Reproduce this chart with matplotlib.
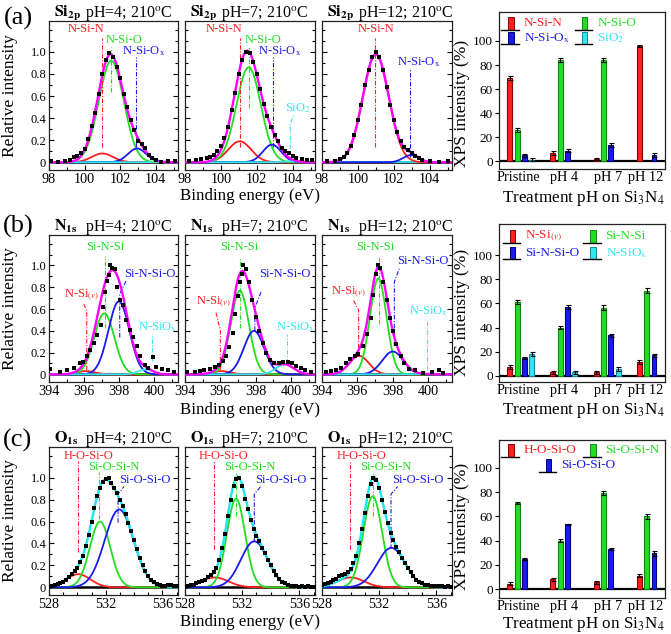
import numpy as np
import matplotlib
matplotlib.use("Agg")
import matplotlib.pyplot as plt
from matplotlib.patches import Rectangle
from matplotlib.lines import Line2D
from matplotlib.ticker import MultipleLocator, FixedLocator

plt.rcParams['font.family'] = ['Liberation Serif', 'DejaVu Serif']
plt.rcParams['mathtext.fontset'] = 'stix'

RED = '#ff1f1f'; GREEN = '#22dd22'; BLUE = '#1a1aee'; CYAN = '#33e6f2'
MAG = '#ff00ff'; ENV_O = '#19e6f0'
COMP_COLORS = [RED, GREEN, BLUE, CYAN]

# ---------------- spectra: fitted peak parameters (center, height, FWHM) ----------
si_ph4_c = [101.0, 101.5, 102.95, 104.0]; si_ph4_h = [0.08, 0.92, 0.125, 0.004]; si_ph4_w = [1.4, 1.65, 1.2, 1.0]
si_ph7_c = [101.05, 101.55, 102.85, 103.9]; si_ph7_h = [0.19, 0.86, 0.16, 0.01]; si_ph7_w = [1.5, 1.6, 1.2, 1.0]
si_ph12_c = [101.0, 102.95]; si_ph12_h = [0.98, 0.065]; si_ph12_w = [1.7, 1.0]

n_ph4_c = [396.1, 397.15, 397.98, 399.5]; n_ph4_h = [0.03, 0.56, 0.67, 0.045]; n_ph4_w = [1.2, 1.35, 1.4, 1.0]
n_ph7_c = [396.05, 397.1, 397.9, 399.65]; n_ph7_h = [0.03, 0.77, 0.40, 0.09]; n_ph7_w = [1.2, 1.2, 1.35, 1.2]
n_ph12_c = [396.1, 397.18, 398.0, 399.8]; n_ph12_h = [0.17, 0.88, 0.21, 0.004]; n_ph12_w = [1.3, 1.1, 1.4, 1.0]

o_ph4_c = [530.07, 531.6, 532.95]; o_ph4_h = [0.12, 0.60, 0.71]; o_ph4_w = [2.0, 1.7, 2.4]
o_ph7_c = [530.1, 531.57, 532.85]; o_ph7_h = [0.09, 0.81, 0.42]; o_ph7_w = [2.2, 1.5, 2.2]
o_ph12_c = [530.0, 531.55, 532.85]; o_ph12_h = [0.09, 0.83, 0.36]; o_ph12_w = [2.2, 1.55, 2.3]

# ---------------- spectra: measured points ----------------
si_ph4_x = [98.1, 98.5, 98.9, 99.2, 99.4, 99.6, 99.8, 100.0, 100.2, 100.4, 100.6, 100.8, 101.0, 101.2, 101.4, 101.6,
            101.8, 102.0, 102.2, 102.4, 102.6, 102.8, 103.0, 103.2, 103.4, 103.6, 103.8, 104.0, 104.3, 104.7, 105.1]
si_ph4_y = [0.01, 0.0, 0.01, 0.02, 0.05, 0.06, 0.08, 0.12, 0.21, 0.33, 0.45, 0.62, 0.80, 0.93, 0.99, 0.95,
            0.86, 0.76, 0.62, 0.50, 0.38, 0.29, 0.19, 0.17, 0.13, 0.07, 0.04, 0.02, 0.0, 0.01, 0.01]
si_ph7_x = [98.2, 98.6, 98.9, 99.2, 99.4, 99.6, 99.8, 100.0, 100.2, 100.4, 100.6, 100.8, 101.0, 101.2, 101.4, 101.6,
            101.8, 102.0, 102.2, 102.4, 102.6, 102.8, 103.0, 103.2, 103.4, 103.6, 103.8, 104.0, 104.2, 104.5, 104.8, 105.1]
si_ph7_y = [0.01, 0.02, 0.03, 0.04, 0.05, 0.07, 0.10, 0.15, 0.22, 0.32, 0.47, 0.63, 0.80, 0.93, 1.0, 0.99,
            0.91, 0.80, 0.66, 0.53, 0.42, 0.32, 0.25, 0.19, 0.13, 0.10, 0.08, 0.06, 0.04, 0.03, 0.02, 0.02]
si_ph12_x = [98.3, 98.7, 99.0, 99.2, 99.4, 99.6, 99.8, 100.0, 100.2, 100.4, 100.6, 100.8, 101.0, 101.2, 101.4,
             101.6, 101.8, 102.0, 102.2, 102.4, 102.6, 102.8, 103.0, 103.2, 103.4, 103.6, 104.0, 104.5, 105.0]
si_ph12_y = [0.01, 0.01, 0.03, 0.05, 0.08, 0.15, 0.25, 0.38, 0.52, 0.70, 0.84, 0.95, 1.0, 0.95, 0.84,
             0.68, 0.52, 0.38, 0.27, 0.19, 0.14, 0.11, 0.08, 0.06, 0.04, 0.02, 0.01, 0.0, 0.01]

n_ph4_x = [394.05, 394.6, 395.0, 395.4, 395.75, 395.95, 396.15, 396.35, 396.55, 396.75, 396.95, 397.1, 397.2, 397.3,
           397.4, 397.5, 397.6, 397.75, 397.9, 398.05, 398.2, 398.4, 398.6, 398.8, 399.0, 399.2, 399.45, 399.65,
           399.9, 400.1, 400.45, 400.8, 401.1]
n_ph4_y = [0.05, 0.02, 0.04, 0.06, 0.10, 0.11, 0.17, 0.22, 0.29, 0.36, 0.45, 0.62, 0.76, 0.86,
           0.91, 1.0, 0.98, 0.97, 0.80, 0.68, 0.64, 0.50, 0.41, 0.34, 0.26, 0.17, 0.09, 0.06,
           0.16, 0.07, 0.05, 0.04, 0.02]
n_ph7_x = [394.1, 394.55, 394.85, 395.1, 395.4, 395.7, 395.95, 396.15, 396.3, 396.5, 396.7, 396.85, 397.0, 397.1,
           397.2, 397.3, 397.45, 397.6, 397.8, 398.0, 398.2, 398.4, 398.6, 398.8, 399.05, 399.3, 399.55, 399.8,
           400.05, 400.3, 400.55, 400.8, 401.1]
n_ph7_y = [0.02, 0.02, 0.03, 0.04, 0.05, 0.07, 0.09, 0.12, 0.17, 0.25, 0.38, 0.55, 0.72, 0.85,
           0.92, 1.0, 0.97, 0.85, 0.68, 0.53, 0.40, 0.29, 0.20, 0.13, 0.10, 0.10, 0.11, 0.11,
           0.10, 0.08, 0.06, 0.04, 0.02]
n_ph12_x = [394.2, 394.5, 394.8, 395.1, 395.35, 395.6, 395.85, 396.05, 396.3, 396.55, 396.75, 396.9, 397.05, 397.15,
            397.3, 397.45, 397.65, 397.85, 398.0, 398.2, 398.45, 398.65, 398.9, 399.25, 399.7, 400.2, 400.6, 400.85]
n_ph12_y = [0.02, 0.03, 0.04, 0.06, 0.10, 0.14, 0.17, 0.19, 0.26, 0.37, 0.52, 0.73, 0.92, 1.0,
            0.98, 0.85, 0.68, 0.52, 0.40, 0.28, 0.17, 0.10, 0.05, 0.04, 0.01, 0.02, 0.04, 0.01]

o_x = [528.0, 528.2, 528.4, 528.6, 528.8, 529.0, 529.2, 529.4, 529.6, 529.8, 530.0, 530.2, 530.4, 530.6, 530.8,
       531.0, 531.2, 531.4, 531.6, 531.8, 532.0, 532.2, 532.4, 532.6, 532.8, 533.0, 533.2, 533.4, 533.6, 533.8,
       534.0, 534.2, 534.4, 534.6, 534.8, 535.0, 535.2, 535.4, 535.6, 535.8, 536.0, 536.2, 536.4, 536.6, 536.8, 537.0]
o_ph4_y = [0.005, 0.01, 0.02, 0.03, 0.04, 0.05, 0.07, 0.09, 0.12, 0.15, 0.18, 0.23, 0.29, 0.38, 0.48,
           0.60, 0.72, 0.83, 0.91, 0.96, 0.99, 1.0, 0.95, 0.91, 0.86, 0.80, 0.74, 0.67, 0.59, 0.51,
           0.43, 0.35, 0.27, 0.20, 0.15, 0.10, 0.07, 0.05, 0.03, 0.02, 0.01, 0.01, 0.02, 0.02, 0.01, 0.01]
o_ph7_y = [0.005, 0.01, 0.02, 0.025, 0.035, 0.045, 0.06, 0.07, 0.09, 0.11, 0.14, 0.18, 0.25, 0.36, 0.49,
           0.65, 0.80, 0.92, 0.99, 1.0, 0.92, 0.81, 0.71, 0.61, 0.53, 0.47, 0.42, 0.36, 0.31, 0.25,
           0.20, 0.15, 0.11, 0.08, 0.05, 0.035, 0.02, 0.015, 0.01, 0.01, 0.005, 0.01, 0.0, 0.01, 0.005, 0.0]
o_ph12_y = [0.02, 0.03, 0.04, 0.05, 0.07, 0.08, 0.10, 0.11, 0.12, 0.14, 0.17, 0.22, 0.29, 0.40, 0.53,
            0.68, 0.83, 0.94, 1.0, 0.98, 0.91, 0.80, 0.69, 0.59, 0.50, 0.43, 0.37, 0.32, 0.27, 0.22,
            0.18, 0.14, 0.10, 0.07, 0.05, 0.035, 0.025, 0.02, 0.015, 0.01, 0.01, 0.01, 0.01, 0.005, 0.01, 0.005]

# ---------------- bar charts ----------------
bar_cats = ['Pristine', 'pH 4', 'pH 7', 'pH 12']
nan = np.nan
a_nsin = [69, 7, 2, 96];        a_nsin_e = [1.5, 1.5, 1.0, 1.0]
a_nsio = [26, 84, 84, nan];     a_nsio_e = [1.5, 1.5, 1.5, 0]
a_nsiox = [5, 9, 13.5, 5.5];    a_nsiox_e = [1.5, 1.0, 1.5, 1.5]
a_sio2 = [1.5, nan, nan, nan];  a_sio2_e = [1.0, 0, 0, 0]

b_nsiv = [7.5, 3, 3, 11.5];     b_nsiv_e = [1.5, 1.0, 1.0, 1.5]
b_sinsi = [61, 40, 56.5, 70.5]; b_sinsi_e = [1.5, 1.5, 2.0, 2.0]
b_sinsio = [15, 57, 33.5, 17];  b_sinsio_e = [1.0, 1.5, 1.0, 1.5]
b_nsiox = [18, 3, 5.5, nan];    b_nsiox_e = [1.5, 1.0, 1.5, 0]

c_hosio = [4.5, 8, 5.5, 11];    c_hosio_e = [1.5, 1.5, 1.5, 1.0]
c_siosin = [71, 40, 79, 60];    c_siosin_e = [1.0, 1.0, 1.5, 2.0]
c_siosio = [24.5, 53.5, 33, 29.5]; c_siosio_e = [0.8, 0.5, 0.8, 2.0]

W, H = 671, 634
fig = plt.figure(figsize=(W / 100, H / 100), dpi=100)


def fa(x0, x1, ytop, ybot):
    return [x0 / W, 1 - ybot / H, (x1 - x0) / W, (ybot - ytop) / H]


def gauss(x, c, h, w):
    return h * np.exp(-4 * np.log(2) * (x - c) ** 2 / w ** 2)


def spectrum(ax, xlim, major, cs, hs, ws, colors, env_color, px, py, notes, title_el, title_ph, first):
    xx = np.linspace(xlim[0], xlim[1], 700)
    ax.plot(xlim, [0, 0], color='k', lw=1.8, zorder=1)
    env = np.zeros_like(xx)
    for c, h, w, col in zip(cs, hs, ws, colors):
        g = gauss(xx, c, h, w)
        env += g
        ax.plot(xx, g, color=col, lw=1.3, zorder=2)
    ax.plot(xx, env, color=env_color, lw=1.7, zorder=3)
    for text, col, tx, ty, pts in notes:
        lx, ly = zip(*pts)
        ax.plot(lx, ly, color=col, lw=0.8, ls=(0, (4, 1.5, 1, 1.5)), zorder=2.5)
        ax.text(tx, ty, text, color=col, fontsize=9, ha='center', va='center', zorder=5)
    ax.plot(px, py, 's', color='k', ms=2.6, mew=0, zorder=4)
    ax.set_xlim(xlim)
    ax.set_ylim(-0.07, 1.28)
    ax.xaxis.set_major_locator(MultipleLocator(major))
    ax.xaxis.set_minor_locator(MultipleLocator(1))
    ax.yaxis.set_major_locator(FixedLocator([0, 0.2, 0.4, 0.6, 0.8, 1.0]))
    ax.yaxis.set_minor_locator(MultipleLocator(0.1))
    ax.set_yticklabels(['0', '0.2', '0.4', '0.6', '0.8', '1.0'])
    ax.tick_params(which='both', direction='in', left=True, right=True, top=False, bottom=True, width=0.8)
    ax.tick_params(which='major', length=3.5)
    ax.tick_params(which='minor', length=2)
    ax.tick_params(axis='x', labelsize=10.2, pad=2)
    ax.tick_params(axis='y', labelsize=9, labelleft=first, pad=2)
    for s in ax.spines.values():
        s.set_linewidth(0.9)
        s.set_color('#222222')
    ax.text(0.04, 1.03, title_el, transform=ax.transAxes, fontsize=11.5, ha='left', va='baseline')
    ax.text(0.28, 1.03, title_ph, transform=ax.transAxes, fontsize=11.5, ha='left', va='baseline')


def bars(ax, series, errs, colors, edges, legend, ylim):
    off = [-1.5, -0.5, 0.5, 1.5]
    gx = np.arange(len(bar_cats))
    ax.axhline(0, color='k', lw=1.6, zorder=1)
    for i, (vals, ev, col, ec) in enumerate(zip(series, errs, colors, edges)):
        vals = np.array(vals, dtype=float)
        ev = np.array(ev, dtype=float)
        m = ~np.isnan(vals)
        xs = gx[m] + off[i] * 0.17
        ax.bar(xs, vals[m], width=0.115, color=col, edgecolor=ec, lw=0.8, zorder=2)
        ax.errorbar(xs, vals[m], yerr=ev[m], fmt='none', ecolor='k', elinewidth=0.8, capsize=1.8, capthick=0.8, zorder=3)
    ax.set_xlim(-0.503, 3.34)
    ax.set_ylim(*ylim)
    ax.set_yticks([0, 20, 40, 60, 80, 100])
    ax.set_xticks([-0.05, 1.0, 2.02, 2.88])
    ax.set_xticklabels(bar_cats)
    ax.tick_params(axis='y', direction='out', length=3, width=0.8, labelsize=9.5, pad=1.5)
    ax.tick_params(axis='x', length=0, labelsize=10.3, pad=1.5)
    for s in ax.spines.values():
        s.set_linewidth(0.9)
        s.set_color('#222222')
    for (x0, y0, col, ec, text) in legend:
        ax.add_line(Line2D([x0, x0 + 0.105], [y0, y0], transform=ax.transAxes, color='k', lw=1.0))
        ax.add_patch(Rectangle((x0 + 0.04, y0), 0.035, 0.08, transform=ax.transAxes, fc=col, ec=ec, lw=0.7))
        ax.text(x0 + 0.135, y0 + 0.042, text, transform=ax.transAxes, color=col, fontsize=9.5, ha='left', va='center')


EDGES = ['#8a0000', '#118811', '#000080', '#118899']
cols_x = [(49, 178), (185, 315), (322, 452)]
rows_y = [(21, 170), (235, 382), (447, 595)]
BX = (499, 665)
bar_rows = [(12, 169), (224, 382), (440, 598)]

SI_T = r'$\mathbf{Si_{2p}}$'
N_T = r'$\mathbf{N_{1s}}$'
O_T = r'$\mathbf{O_{1s}}$'
Ox = r'$_{\rm x}$'
Nsiv = r'N-Si$_{(v)}$'

# ---------------- row (a): Si2p ----------------
si_notes = [
    [("N-Si-N", RED, 100.1, 1.21, [(101.0, 0.14), (101.0, 1.13)]),
     ("N-Si-O", GREEN, 102.2, 1.11, [(101.5, 0.64), (101.5, 1.04)]),
     ("N-Si-O" + Ox, BLUE, 103.3, 1.01, [(102.9, 0.14), (102.9, 0.95)])],
    [("N-Si-N", RED, 100.2, 1.21, [(101.07, 0.14), (101.07, 1.13)]),
     ("N-Si-O", GREEN, 102.35, 1.11, [(101.55, 0.49), (101.55, 1.04)]),
     ("N-Si-O" + Ox, BLUE, 103.3, 1.01, [(102.93, 0.14), (102.93, 0.95)]),
     ("SiO$_2$", CYAN, 104.3, 0.49, [(103.87, 0.12), (103.87, 0.35), (104.05, 0.42)])],
    [("N-Si-N", RED, 101.0, 1.21, [(100.97, 0.14), (100.97, 1.13)]),
     ("N-Si-O" + Ox, BLUE, 103.37, 0.91, [(102.9, 0.05), (102.9, 0.85)])],
]
si_sets = [(si_ph4_c, si_ph4_h, si_ph4_w, COMP_COLORS, si_ph4_x, si_ph4_y, 'pH=4; 210$^{\\rm o}$C'),
           (si_ph7_c, si_ph7_h, si_ph7_w, COMP_COLORS, si_ph7_x, si_ph7_y, 'pH=7; 210$^{\\rm o}$C'),
           (si_ph12_c, si_ph12_h, si_ph12_w, [RED, BLUE], si_ph12_x, si_ph12_y, 'pH=12; 210$^{\\rm o}$C')]
for i, (c, h, w, cc, px, py, tt) in enumerate(si_sets):
    ax = fig.add_axes(fa(cols_x[i][0], cols_x[i][1], *rows_y[0]))
    if i == 2:
        ax.plot([98, 105.25], [0.002, 0.002], color=CYAN, lw=1.3, zorder=1.5)
    spectrum(ax, (98, 105.25), 2, c, h, w, cc, MAG, px, py, si_notes[i], SI_T, tt, i == 0)

# ---------------- row (b): N1s ----------------
n_notes = [
    [(Nsiv, RED, 395.86, 0.73, [(396.15, 0.04), (396.15, 0.58), (395.95, 0.66)]),
     ("Si-N-Si", GREEN, 397.2, 1.17, [(397.2, 0.43), (397.2, 1.09)]),
     ("Si-N-Si-O", BLUE, 399.75, 0.92, [(398.03, 0.34), (398.03, 0.74), (398.4, 0.86)]),
     ("N-SiO" + Ox, CYAN, 400.2, 0.43, [(399.88, 0.12), (399.88, 0.37)])],
    [(Nsiv, RED, 395.6, 0.67, [(396.0, 0.04), (396.0, 0.40), (395.75, 0.57)]),
     ("Si-N-Si", GREEN, 397.05, 1.17, [(397.1, 0.43), (397.1, 1.08)]),
     ("Si-N-Si-O", BLUE, 399.62, 0.92, [(397.95, 0.40), (397.95, 0.61), (398.33, 0.77)]),
     ("N-SiO" + Ox, CYAN, 400.23, 0.43, [(399.78, 0.10), (399.78, 0.37)])],
    [(Nsiv, RED, 395.5, 0.76, [(396.07, 0.16), (396.07, 0.59), (395.75, 0.69)]),
     ("Si-N-Si", GREEN, 397.0, 1.17, [(397.24, 0.46), (397.24, 1.08)]),
     ("Si-N-Si-O", BLUE, 399.69, 1.04, [(398.09, 0.26), (398.09, 0.85), (398.37, 0.97)]),
     ("N-SiO" + Ox, CYAN, 400.0, 0.58, [(399.91, 0.04), (399.91, 0.50)])],
]
n_sets = [(n_ph4_c, n_ph4_h, n_ph4_w, n_ph4_x, n_ph4_y, 'pH=4; 210$^{\\rm o}$C'),
          (n_ph7_c, n_ph7_h, n_ph7_w, n_ph7_x, n_ph7_y, 'pH=7; 210$^{\\rm o}$C'),
          (n_ph12_c, n_ph12_h, n_ph12_w, n_ph12_x, n_ph12_y, 'pH=12; 210$^{\\rm o}$C')]
for i, (c, h, w, px, py, tt) in enumerate(n_sets):
    ax = fig.add_axes(fa(cols_x[i][0], cols_x[i][1], *rows_y[1]))
    spectrum(ax, (394, 401.35), 2, c, h, w, COMP_COLORS, MAG, px, py, n_notes[i], N_T, tt, i == 0)

# ---------------- row (c): O1s ----------------
o_notes = [
    [("H-O-Si-O", RED, 530.77, 1.2, [(530.07, 0.32), (530.07, 1.15)]),
     ("Si-O-Si-N", GREEN, 532.57, 1.1, [(531.54, 0.62), (531.54, 1.05)]),
     ("Si-O-Si-O", BLUE, 534.74, 0.98, [(532.87, 0.59), (532.87, 0.85), (533.29, 0.92)])],
    [("H-O-Si-O", RED, 530.73, 1.2, [(530.03, 0.35), (530.03, 1.15)]),
     ("Si-O-Si-N", GREEN, 532.55, 1.1, [(531.57, 0.65), (531.57, 1.05)]),
     ("Si-O-Si-O", BLUE, 534.72, 0.98, [(532.85, 0.41), (532.85, 0.85), (533.3, 0.92)])],
    [("H-O-Si-O", RED, 530.74, 1.2, [(529.93, 0.35), (529.93, 1.15)]),
     ("Si-O-Si-N", GREEN, 532.5, 1.1, [(531.59, 0.65), (531.59, 1.05)]),
     ("Si-O-Si-O", BLUE, 534.7, 0.98, [(532.83, 0.35), (532.83, 0.85), (533.3, 0.92)])],
]
o_sets = [(o_ph4_c, o_ph4_h, o_ph4_w, o_ph4_y, 'pH=4; 210$^{\\rm o}$C'),
          (o_ph7_c, o_ph7_h, o_ph7_w, o_ph7_y, 'pH=7; 210$^{\\rm o}$C'),
          (o_ph12_c, o_ph12_h, o_ph12_w, o_ph12_y, 'pH=12; 210$^{\\rm o}$C')]
for i, (c, h, w, py, tt) in enumerate(o_sets):
    ax = fig.add_axes(fa(cols_x[i][0], cols_x[i][1], *rows_y[2]))
    spectrum(ax, (528, 537.1), 4, c, h, w, [RED, GREEN, BLUE], ENV_O, o_x, py, o_notes[i], O_T, tt, i == 0)

# ---------------- bar charts ----------------
axa = fig.add_axes(fa(BX[0], BX[1], *bar_rows[0]))
bars(axa, [a_nsin, a_nsio, a_nsiox, a_sio2], [a_nsin_e, a_nsio_e, a_nsiox_e, a_sio2_e],
     [RED, GREEN, BLUE, CYAN], EDGES,
     [(0.014, 0.888, RED, EDGES[0], 'N-Si-N'), (0.457, 0.888, GREEN, EDGES[1], 'N-Si-O'),
      (0.014, 0.793, BLUE, EDGES[2], 'N-Si-O' + Ox), (0.457, 0.793, CYAN, EDGES[3], 'SiO$_2$')],
     (-6.3, 124))
axb = fig.add_axes(fa(BX[0], BX[1], *bar_rows[1]))
bars(axb, [b_nsiv, b_sinsi, b_sinsio, b_nsiox], [b_nsiv_e, b_sinsi_e, b_sinsio_e, b_nsiox_e],
     [RED, GREEN, BLUE, CYAN], EDGES,
     [(0.024, 0.882, RED, EDGES[0], Nsiv), (0.507, 0.882, GREEN, EDGES[1], 'Si-N-Si'),
      (0.024, 0.776, BLUE, EDGES[2], 'Si-N-Si-O'), (0.507, 0.776, CYAN, EDGES[3], 'N-SiO' + Ox)],
     (-5, 125.7))
axc = fig.add_axes(fa(BX[0], BX[1], *bar_rows[2]))
bars(axc, [c_hosio, c_siosin, c_siosio], [c_hosio_e, c_siosin_e, c_siosio_e],
     [RED, GREEN, BLUE], EDGES,
     [(0.014, 0.895, RED, EDGES[0], 'H-O-Si-O'), (0.507, 0.895, GREEN, EDGES[1], 'Si-O-Si-N'),
      (0.241, 0.80, BLUE, EDGES[2], 'Si-O-Si-O')],
     (-7.4, 123))

# ---------------- figure texts ----------------
for lab, y in [('(a)', 18), ('(b)', 226), ('(c)', 440)]:
    fig.text(18 / W, 1 - y / H, lab, fontsize=19, ha='center', va='center')
for (yt, yb), yx in zip(rows_y, [196, 410, 622]):
    fig.text(10 / W, 1 - (yt + yb) / 2 / H, 'Relative intensity', rotation=90, fontsize=12.5, ha='center', va='center')
    fig.text(250 / W, 1 - yx / H, 'Binding energy (eV)', fontsize=12.2, ha='center', va='center')
for yl, yx in zip([103, 312, 526], [198, 410, 624]):
    fig.text(462 / W, 1 - yl / H, 'XPS intensity (%)', rotation=90, fontsize=12.5, ha='center', va='center')
    fig.text(583 / W, 1 - yx / H, 'Treatment pH on Si$_3$N$_4$', fontsize=12.3, ha='center', va='center')

fig.savefig('out.png', dpi=100)
